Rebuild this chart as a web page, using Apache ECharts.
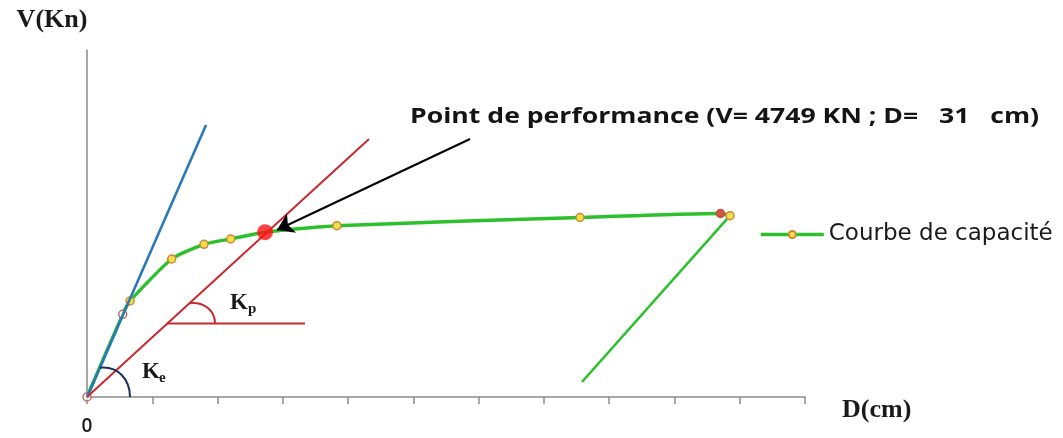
<!DOCTYPE html>
<html>
<head>
<meta charset="utf-8">
<script src="https://cdn.jsdelivr.net/npm/echarts@6/dist/echarts.min.js"></script>
<style>
  html, body { margin: 0; padding: 0; background: #ffffff; }
  #chart { width: 1063px; height: 438px; }
</style>
</head>
<body>
<div id="chart"></div>
<script>
// Pushover capacity curve: displacement D (cm) vs base shear V (kN)
const capD = [0, 6.22, 7.49, 14.75, 20.37, 25.02, 31, 43.52, 85.83, 110.28, 111.94];
const capV = [0, 2383, 2767, 3977, 4400, 4553, 4749, 4937, 5173, 5288, 5225];

// Performance point
const perfD = 31;
const perfV = 4749;

// Elastic stiffness line (Ke)
const keD = [0, 20.72];
const keV = [0, 7838];

// Post-elastic stiffness line (Kp)
const kpD = [0, 49.1];
const kpV = [0, 7435];

// Horizontal reference used to show the Kp angle
const kpRefD = [13.93, 37.95];
const kpRefV = [2118, 2118];

// Unloading branch
const unloadD = [111.94, 86.17];
const unloadV = [5225, 432];

// Arrow pointing to the performance point
const arrowFrom = [66.68, 7435];
const arrowTo = [33.08, 4813];

// Axes
const xMax = 125;
const xTickCount = 11;
const yMax = 10000;
const xTickLabels = { 0: '0' };

const pairs = (xs, ys) => xs.map((x, i) => [x, ys[i]]);

const GREEN = '#2cc12c';
const BLUE = '#2b78b4';
const RED = '#c62a31';
const AXIS = '#8a8a8a';
const SERIF = '"Liberation Serif", "DejaVu Serif", serif';
const SANS = '"Open Sans", "Noto Sans", sans-serif';

const capData = pairs(capD, capV).map((p, i) => {
  const item = { value: p };
  if (i === 0 || i === 1) {
    item.itemStyle = { color: 'rgba(255,255,255,0.6)', borderColor: '#b46f6a' };
  }
  if (p[0] === perfD && p[1] === perfV) {
    item.symbol = 'none';
  }
  if (i === 9) {
    item.itemStyle = { color: '#d4583f', borderColor: '#b9534a' };
  }
  return item;
});

const chart = echarts.init(document.getElementById('chart'), null, { renderer: 'canvas' });

chart.setOption({
  animation: false,
  backgroundColor: '#ffffff',
  grid: { left: 87, right: 258, top: 50, bottom: 41, containLabel: false },
  legend: {
    data: ['Courbe de capacité'],
    left: 754,
    top: 218,
    itemWidth: 63,
    itemHeight: 9,
    lineStyle: { width: 3.6, color: GREEN },
    textStyle: { fontFamily: '"DejaVu Sans", sans-serif', fontSize: 23, color: '#1a1a1a' }
  },
  xAxis: {
    type: 'value',
    min: 0,
    max: xMax,
    interval: xMax / xTickCount,
    name: 'D(cm)',
    nameLocation: 'end',
    nameGap: 37,
    nameTextStyle: {
      fontFamily: SERIF, fontWeight: 'bold', fontSize: 26, color: '#1a1a1a',
      align: 'left', verticalAlign: 'top'
    },
    axisLine: { show: true, onZero: false, lineStyle: { color: AXIS, width: 1.5 } },
    axisTick: { show: true, length: 7, inside: false, lineStyle: { color: AXIS, width: 1.5 } },
    axisLabel: {
      show: true,
      margin: 20,
      fontFamily: SANS,
      fontSize: 19,
      fontWeight: 600,
      color: '#1a1a1a',
      formatter: v => (xTickLabels[v] !== undefined ? xTickLabels[v] : '')
    },
    splitLine: { show: false }
  },
  yAxis: {
    type: 'value',
    min: 0,
    max: yMax,
    name: 'V(Kn)',
    nameLocation: 'end',
    nameGap: 17,
    nameTextStyle: {
      fontFamily: SERIF, fontWeight: 'bold', fontSize: 26, color: '#1a1a1a',
      align: 'center', padding: [0, 70, 0, 0]
    },
    axisLine: { show: true, onZero: false, lineStyle: { color: AXIS, width: 1.5 } },
    axisTick: { show: false },
    axisLabel: { show: false },
    splitLine: { show: false }
  },
  series: [
    {
      name: 'Courbe de capacité',
      type: 'line',
      data: capData,
      smooth: 0.2,
      z: 2,
      symbol: 'circle',
      symbolSize: 8,
      lineStyle: { color: GREEN, width: 3.4 },
      itemStyle: { color: '#f4de4c', borderColor: '#c98a34', borderWidth: 1.5 }
    },
    {
      name: 'Décharge',
      type: 'line',
      data: pairs(unloadD, unloadV),
      symbol: 'none',
      z: 1,
      lineStyle: { color: GREEN, width: 2.6 }
    },
    {
      name: 'Ke',
      type: 'line',
      data: pairs(keD, keV),
      symbol: 'none',
      z: 3,
      lineStyle: { color: BLUE, width: 2.6 }
    },
    {
      name: 'Kp',
      type: 'line',
      data: pairs(kpD, kpV),
      symbol: 'none',
      z: 3,
      lineStyle: { color: RED, width: 2 }
    },
    {
      name: 'Kp ref',
      type: 'line',
      data: pairs(kpRefD, kpRefV),
      symbol: 'none',
      z: 3,
      lineStyle: { color: RED, width: 2 }
    },
    {
      name: 'Point de performance',
      type: 'scatter',
      data: [[perfD, perfV]],
      symbol: 'circle',
      symbolSize: 16,
      z: 6,
      itemStyle: { color: '#ff1212' },
      markLine: {
        silent: true,
        symbol: ['none', 'arrow'],
        symbolSize: 16,
        label: { show: false },
        lineStyle: { color: '#000000', width: 2, type: 'solid' },
        data: [[{ coord: arrowFrom }, { coord: arrowTo }]]
      }
    }
  ]
});

// Angle marks and stiffness labels, placed from the data vertices
function drawAnnotations() {
  const o = chart.convertToPixel({ gridIndex: 0 }, [keD[0], keV[0]]);
  const kv = chart.convertToPixel({ gridIndex: 0 }, [kpRefD[0], kpRefV[0]]);
  const keEnd = chart.convertToPixel({ gridIndex: 0 }, [keD[1], keV[1]]);
  const kpEnd = chart.convertToPixel({ gridIndex: 0 }, [kpD[1], kpV[1]]);
  const keAng = Math.atan2(o[1] - keEnd[1], keEnd[0] - o[0]);
  const kpAng = Math.atan2(o[1] - kpEnd[1], kpEnd[0] - o[0]);

  // rounded arc between a sloped line and the horizontal
  function angleArc(c, ang, rLine, rHoriz, color) {
    const x1 = c[0] + rLine * Math.cos(ang);
    const y1 = c[1] - rLine * Math.sin(ang);
    const x2 = c[0] + rHoriz;
    const y2 = c[1];
    return {
      type: 'bezierCurve',
      z: 10,
      shape: {
        x1: x1, y1: y1,
        cpx1: x1 + (x2 - x1) * 0.6, cpy1: y1 - 2,
        cpx2: x2, cpy2: y1 + (y2 - y1) * 0.4,
        x2: x2, y2: y2
      },
      style: { stroke: color, lineWidth: 2, fill: null }
    };
  }

  const kFont = 'bold 23px ' + SERIF;
  const subFont = 'bold 15px ' + SERIF;

  chart.setOption({
    graphic: [
      angleArc(o, keAng, 32, 43, '#1f2d58'),
      angleArc(kv, kpAng, 30, 48, RED),
      { type: 'text', z: 10, x: o[0] + 55, y: o[1] - 25,
        style: { text: 'K', font: kFont, fill: '#1a1a1a', verticalAlign: 'middle' } },
      { type: 'text', z: 10, x: o[0] + 72, y: o[1] - 19,
        style: { text: 'e', font: subFont, fill: '#1a1a1a', verticalAlign: 'middle' } },
      { type: 'text', z: 10, x: kv[0] + 63, y: kv[1] - 20,
        style: { text: 'K', font: kFont, fill: '#1a1a1a', verticalAlign: 'middle' } },
      { type: 'text', z: 10, x: kv[0] + 81, y: kv[1] - 14,
        style: { text: 'p', font: subFont, fill: '#1a1a1a', verticalAlign: 'middle' } },
      { type: 'text', z: 10, x: 410, y: 117, scaleX: 1.21,
        style: {
          text: 'Point de performance (V= ' + perfV + ' KN ; D=   ' + perfD + '   cm)',
          font: 'bold 22px ' + SANS, fill: '#141414', verticalAlign: 'middle'
        } }
    ]
  });
}
drawAnnotations();
</script>
</body>
</html>
